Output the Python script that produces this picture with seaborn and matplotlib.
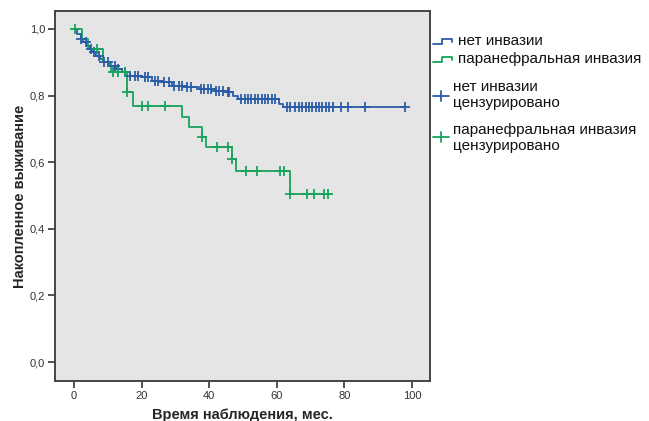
import numpy as np
import pandas as pd
import matplotlib
matplotlib.use('Agg')
import matplotlib.pyplot as plt
from matplotlib.lines import Line2D
from matplotlib.ticker import FuncFormatter
import seaborn as sns

# кривые Каплана-Мейера
blue_t = [0, 1, 2, 2.8, 3.8, 4.7, 5.6, 6.6, 7.6, 8.6, 10.5, 12.5, 14.2, 16.5, 20, 23, 26, 29,
          33, 37, 42, 45, 47, 48.5, 60.5, 61.8, 98]
blue_s = [1.0, 0.985, 0.97, 0.96, 0.95, 0.94, 0.93, 0.92, 0.91, 0.90, 0.89, 0.88, 0.87, 0.86,
          0.855, 0.845, 0.84, 0.83, 0.825, 0.82, 0.815, 0.81, 0.80, 0.79, 0.775, 0.765, 0.765]
blue_cens = [2, 3.5, 5, 6, 7.5, 9, 10, 12, 13, 15, 16.5, 18, 19, 21, 22, 24, 25, 26.5, 28, 29.5,
             31, 32, 33.5, 34.5, 37.5, 38.5, 39.5, 40.5, 42, 43, 44, 45.5, 46, 49.5, 50.5, 51.5,
             52.5, 53.5, 54.5, 55.5, 56.5, 57.5, 58.5, 59.5, 63, 64, 65.5, 66.5, 67.5, 68.5, 69.5,
             70.5, 71.5, 72.5, 73.5, 74.5, 75.5, 76.5, 79, 81, 86, 98]

green_t = [0, 2.3, 4.2, 8.6, 11, 15.8, 17.5, 32, 34, 38, 39.2, 46.7, 48, 63.9, 75.7]
green_s = [1.0, 0.97, 0.94, 0.90, 0.87, 0.81, 0.77, 0.735, 0.705, 0.675, 0.645, 0.61, 0.575,
           0.505, 0.505]
green_cens = [0.3, 6.8, 11.5, 13, 15, 15.8, 20, 22, 27, 38, 42.3, 45.6, 46.7, 51, 54, 61, 62,
              63.9, 69, 71, 74, 75.2]

labels = ['нет инвазии', 'паранефральная инвазия']
blue = '#2b5ca8'
green = '#16a35c'


def level(ts, ss, c):
    i = np.searchsorted(ts, c, side='right') - 1
    return ss[i]


curves = pd.concat([
    pd.DataFrame({'t': blue_t, 's': blue_s, 'grp': labels[0]}),
    pd.DataFrame({'t': green_t, 's': green_s, 'grp': labels[1]}),
])
cens = pd.concat([
    pd.DataFrame({'t': blue_cens, 's': [level(blue_t, blue_s, c) for c in blue_cens], 'grp': labels[0]}),
    pd.DataFrame({'t': green_cens, 's': [level(green_t, green_s, c) for c in green_cens], 'grp': labels[1]}),
])

sns.set_style('ticks')
plt.rcParams['font.family'] = ['Liberation Sans', 'DejaVu Sans']

fig = plt.figure(figsize=(6.49, 4.21), dpi=100)
ax = fig.add_axes([55 / 649, 1 - 381 / 421, 375 / 649, 370 / 421])
ax.set_facecolor('#e5e5e5')

pal = {labels[0]: blue, labels[1]: green}
sns.lineplot(data=curves, x='t', y='s', hue='grp', palette=pal, drawstyle='steps-post',
             linewidth=1.3, legend=False, ax=ax, estimator=None, sort=False)
for g in labels:
    d = cens[cens.grp == g]
    ax.plot(d.t, d.s, ls='none', marker='+', ms=7, mew=1.3, color=pal[g])

ax.set_xlim(-5.6, 105.3)
ax.set_ylim(-0.057, 1.054)
ax.set_xticks([0, 20, 40, 60, 80, 100])
ax.set_yticks([0, 0.2, 0.4, 0.6, 0.8, 1.0])
ax.yaxis.set_major_formatter(FuncFormatter(lambda v, p: f'{v:.1f}'.replace('.', ',')))
ax.tick_params(length=5, width=1.2, color='#333333', labelsize=8, labelcolor='#333333', pad=2)
for sp in ax.spines.values():
    sp.set_color('#444444')
    sp.set_linewidth(1.4)
ax.set_xlabel('Время наблюдения, мес.', fontsize=10.5, fontweight='bold', labelpad=5)
ax.set_ylabel('Накопленное выживание', fontsize=10.5, fontweight='bold')
ax.yaxis.set_label_coords(-0.074, 0.5)

# легенда справа
def px(x, y):
    return x / 649, 1 - y / 421

def step_icon(x, y, c):
    xs = [x, x + 9, x + 9, x + 19, x + 19]
    ys = [y + 3, y + 3, y - 2, y - 2, y + 1]
    fig.add_artist(Line2D([a / 649 for a in xs], [1 - b / 421 for b in ys], color=c, lw=1.3))

def plus_icon(x, y, c):
    fig.add_artist(Line2D([x / 649, (x + 16) / 649], [1 - y / 421] * 2, color=c, lw=1.3))
    fig.add_artist(Line2D([(x + 8) / 649] * 2, [1 - (y - 5) / 421, 1 - (y + 5) / 421], color=c, lw=1.3))

step_icon(433, 41, blue)
step_icon(433, 59, green)
plus_icon(433, 96, blue)
plus_icon(433, 137, green)
fs = 11
fig.text(*px(458, 41), 'нет инвазии', fontsize=fs, va='center', color='#111111')
fig.text(*px(458, 59), 'паранефральная инвазия', fontsize=fs, va='center', color='#111111')
fig.text(*px(453, 95), 'нет инвазии\nцензурировано', fontsize=fs, va='center', color='#111111',
         linespacing=1.25)
fig.text(*px(453, 138), 'паранефральная инвазия\nцензурировано', fontsize=fs, va='center',
         color='#111111', linespacing=1.25)

fig.savefig('out.png', dpi=100, facecolor='white')
